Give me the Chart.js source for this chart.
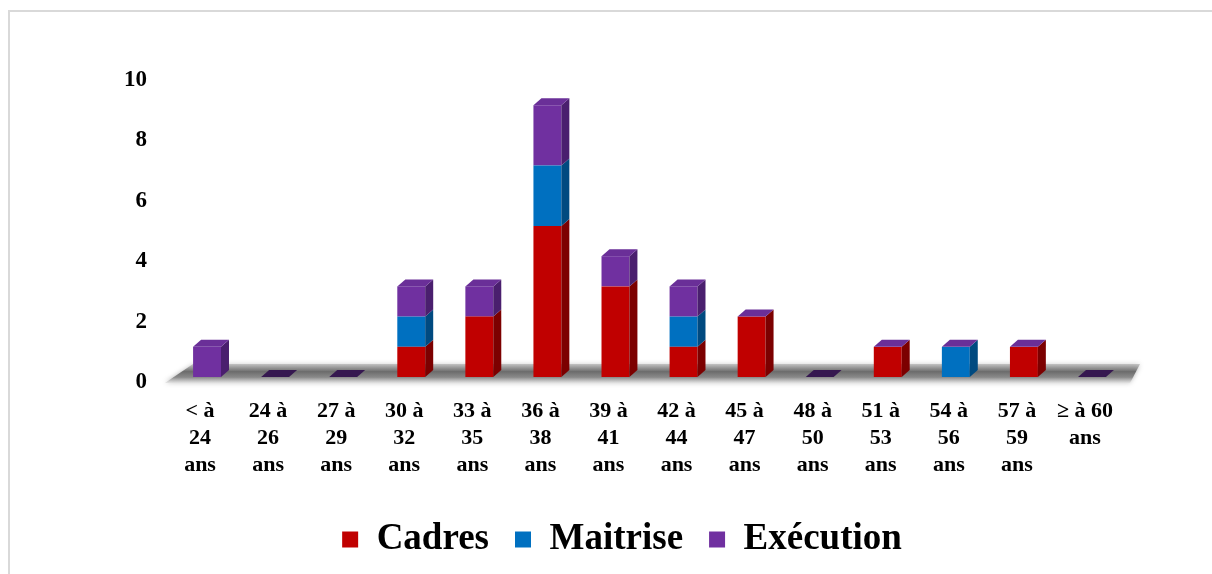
<!DOCTYPE html>
<html>
<head>
<meta charset="utf-8">
<script src="https://cdn.jsdelivr.net/npm/chart.js@4"></script>
<style>
  html, body { margin: 0; padding: 0; background: #fff; overflow: hidden; }
  #wrap { position: relative; width: 1212px; height: 574px; }
  #frame { position: absolute; left: 8px; top: 10px; width: 1300px; height: 700px;
           border-left: 2px solid #d9d9d9; border-top: 2px solid #d9d9d9; pointer-events: none; }
</style>
</head>
<body>
<div id="wrap">
  <canvas id="chart" width="1212" height="574"></canvas>
  <div id="frame"></div>
</div>
<script>
// Tranches d'âge
const categories = [
    ['< à', '24', 'ans'], ['24 à', '26', 'ans'], ['27 à', '29', 'ans'], ['30 à', '32', 'ans'],
    ['33 à', '35', 'ans'], ['36 à', '38', 'ans'], ['39 à', '41', 'ans'], ['42 à', '44', 'ans'],
    ['45 à', '47', 'ans'], ['48 à', '50', 'ans'], ['51 à', '53', 'ans'], ['54 à', '56', 'ans'],
    ['57 à', '59', 'ans'], ['≥ à 60', 'ans']
];

// Effectifs par catégorie
const cadres    = [0, 0, 0, 1, 2, 5, 3, 1, 2, 0, 1, 0, 1, 0];
const maitrise  = [0, 0, 0, 1, 0, 2, 0, 1, 0, 0, 0, 1, 0, 0];
const execution = [1, 0, 0, 1, 1, 2, 1, 1, 0, 0, 0, 0, 0, 0];

const yTicks = [0, 2, 4, 6, 8, 10];

const serif = "'Liberation Serif', 'Times New Roman', serif";
const frontColors = ['#C00000', '#0070C0', '#7030A0'];
const sideColors = ['#7c0000', '#004a80', '#4a1f6e'];
const topColor = '#6a2f98';
const emptyTopColor = '#361850';
const dx = 8, dy = 7;

// fake 3D: floor, side faces and top faces
const bar3d = {
    id: 'bar3d',
    beforeDatasetsDraw(chart) {
        const { ctx, chartArea } = chart;
        const base = chart.scales.y.getPixelForValue(0);
        const l = chartArea.left, r = chartArea.right;
        ctx.save();
        const g = ctx.createLinearGradient(0, base - 13, 0, base + 6);
        g.addColorStop(0, 'rgba(170,170,170,0.6)');
        g.addColorStop(0.4, '#6c6c6c');
        g.addColorStop(0.7, '#8a8a8a');
        g.addColorStop(1, 'rgba(225,225,225,0.7)');
        ctx.fillStyle = g;
        ctx.shadowColor = 'rgba(0,0,0,0.3)';
        ctx.shadowBlur = 5;
        ctx.beginPath();
        ctx.moveTo(l - 8, base + 6);
        ctx.lineTo(l + 20, base - 13);
        ctx.lineTo(r + 14, base - 13);
        ctx.lineTo(r + 4, base + 6);
        ctx.closePath();
        ctx.fill();
        ctx.restore();
    },
    afterDatasetsDraw(chart) {
        const { ctx } = chart;
        const metas = chart.data.datasets.map((d, i) => chart.getDatasetMeta(i));
        ctx.save();
        for (let j = 0; j < chart.data.labels.length; j++) {
            let top = Infinity, left = 0, right = 0, empty = true;
            metas.forEach((meta, i) => {
                const p = meta.data[j].getProps(['x', 'y', 'base', 'width'], true);
                left = p.x - p.width / 2;
                right = p.x + p.width / 2;
                if (p.base - p.y > 0.5) {
                    empty = false;
                    ctx.fillStyle = sideColors[i];
                    ctx.beginPath();
                    ctx.moveTo(right, p.y);
                    ctx.lineTo(right + dx, p.y - dy);
                    ctx.lineTo(right + dx, p.base - dy);
                    ctx.lineTo(right, p.base);
                    ctx.closePath();
                    ctx.fill();
                }
                top = Math.min(top, p.y);
            });
            ctx.fillStyle = empty ? emptyTopColor : topColor;
            ctx.beginPath();
            ctx.moveTo(left, top);
            ctx.lineTo(left + dx, top - dy);
            ctx.lineTo(right + dx, top - dy);
            ctx.lineTo(right, top);
            ctx.closePath();
            ctx.fill();
        }
        ctx.restore();
    }
};

const ctx = document.getElementById('chart').getContext('2d');
new Chart(ctx, {
    type: 'bar',
    data: {
        labels: categories,
        datasets: [
            { label: 'Cadres', data: cadres, backgroundColor: frontColors[0] },
            { label: 'Maitrise', data: maitrise, backgroundColor: frontColors[1] },
            { label: 'Exécution', data: execution, backgroundColor: frontColors[2] }
        ]
    },
    options: {
        responsive: false,
        animation: false,
        layout: { padding: { top: 75, left: 32, right: 0, bottom: 6 } },
        datasets: {
            bar: { categoryPercentage: 1, barPercentage: 0.41, borderWidth: 0 }
        },
        plugins: {
            tooltip: { enabled: false },
            legend: {
                position: 'bottom',
                labels: {
                    boxWidth: 16,
                    boxHeight: 16,
                    padding: 26,
                    color: '#000',
                    font: { family: serif, size: 37, weight: 'bold' }
                }
            }
        },
        scales: {
            x: {
                stacked: true,
                grid: { display: false, drawTicks: false },
                border: { display: false },
                afterFit: s => { s.height = 118; },
                ticks: {
                    padding: 21,
                    labelOffset: -7,
                    maxRotation: 0,
                    autoSkip: false,
                    color: '#000',
                    font: { family: serif, size: 22, weight: 'bold', lineHeight: '27px' }
                }
            },
            y: {
                stacked: true,
                min: yTicks[0],
                max: yTicks[yTicks.length - 1],
                grid: { display: false, drawTicks: false },
                border: { display: false },
                afterFit: s => { s.width = 141; },
                afterBuildTicks: s => { s.ticks = yTicks.map(v => ({ value: v })); },
                ticks: {
                    padding: 26,
                    labelOffset: 5,
                    color: '#000',
                    font: { family: serif, size: 23, weight: 'bold' }
                }
            },
            yRight: {
                position: 'right',
                display: true,
                grid: { display: false, drawTicks: false },
                border: { display: false },
                ticks: { display: false },
                afterFit: s => { s.width = 86; }
            }
        }
    },
    plugins: [bar3d]
});
</script>
</body>
</html>
